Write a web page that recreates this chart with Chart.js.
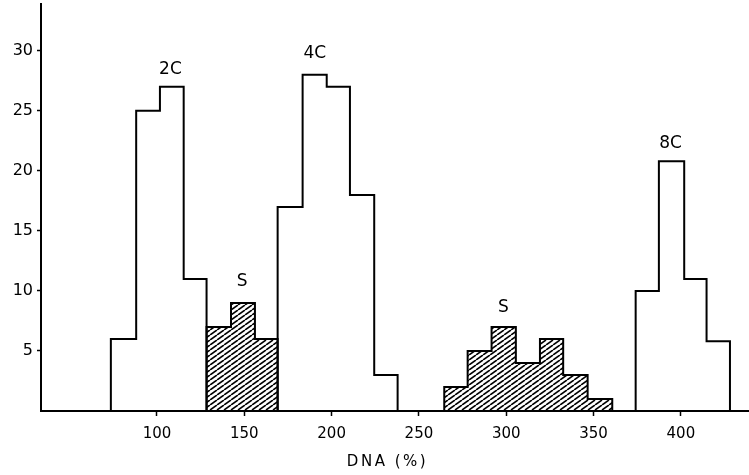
<!DOCTYPE html>
<html>
<head>
<meta charset="utf-8">
<script src="https://cdn.jsdelivr.net/npm/chart.js@4/dist/chart.umd.min.js"></script>
<style>
  html, body { margin: 0; padding: 0; background: #fff; }
  #wrap { width: 749px; height: 475px; }
</style>
</head>
<body>
<div id="wrap"><canvas id="c" width="749" height="475"></canvas></div>
<script>
// ---- data ----
// histogram groups: bin edges (DNA %) and cell counts
const edges2C = [73.6, 88.1, 101.7, 115.3, 128.4];
const counts2C = [6, 25, 27, 11];
const edgesS1 = [128.4, 142.4, 156.1, 169.1];
const countsS1 = [7, 9, 6];
const edges4C = [169.1, 183.4, 197.2, 210.5, 224.4, 237.8];
const counts4C = [17, 28, 27, 18, 3];
const edgesS2 = [264.5, 277.9, 291.6, 305.5, 319.3, 332.6, 346.6, 360.7];
const countsS2 = [2, 5, 7, 4, 6, 3, 1];
const edges8C = [374.1, 387.4, 401.9, 414.7, 428.1];
const counts8C = [10, 20.8, 11, 5.8];

// peak labels
const peakLabels = ['2C', 'S', '4C', 'S', '8C'];
const peakLabelX = [107.7, 148.8, 190.4, 298.3, 394.1];
const peakLabelY = [28.4, 10.8, 29.8, 8.6, 22.3];

// ticks
const xTickValues = [100, 150, 200, 250, 300, 350, 400];
const yTickValues = [5, 10, 15, 20, 25, 30];
const xTitle = 'DNA (%)';

// ---- helpers ----
function stepPoints(edges, counts) {
  const pts = [{ x: edges[0], y: 0 }];
  for (let i = 0; i < counts.length; i++) pts.push({ x: edges[i], y: counts[i] });
  pts.push({ x: edges[edges.length - 1], y: 0 });
  return pts;
}

function makeHatch() {
  const w = 7, h = 5;
  const c = document.createElement('canvas');
  c.width = w; c.height = h;
  const g = c.getContext('2d');
  g.strokeStyle = '#000';
  g.lineWidth = 1.6;
  for (const dx of [-w, 0, w]) {
    g.beginPath();
    g.moveTo(dx, h);
    g.lineTo(dx + w, 0);
    g.stroke();
  }
  return g.createPattern(c, 'repeat');
}
const hatch = makeHatch();

function ds(edges, counts, hatched) {
  return {
    data: stepPoints(edges, counts),
    stepped: 'before',
    borderColor: '#000',
    borderWidth: 2,
    pointRadius: 0,
    fill: hatched ? 'origin' : false,
    backgroundColor: hatched ? hatch : 'rgba(0,0,0,0)',
    tension: 0
  };
}

const textPlugin = {
  id: 'texts',
  afterDraw(chart) {
    const ctx = chart.ctx;
    const xs = chart.scales.x, ys = chart.scales.y;
    ctx.save();
    ctx.fillStyle = '#000';
    ctx.textAlign = 'center';
    ctx.textBaseline = 'middle';
    ctx.font = '17px "DejaVu Sans"';
    peakLabels.forEach((t, i) => {
      ctx.fillText(t, xs.getPixelForValue(peakLabelX[i]), ys.getPixelForValue(peakLabelY[i]));
    });
    ctx.font = '15px "DejaVu Sans"';
    if ('letterSpacing' in ctx) ctx.letterSpacing = '2.5px';
    ctx.fillText(xTitle, xs.getPixelForValue(232), 462);
    ctx.restore();
  }
};

new Chart(document.getElementById('c'), {
  type: 'line',
  data: {
    datasets: [
      ds(edges2C, counts2C, false),
      ds(edgesS1, countsS1, true),
      ds(edges4C, counts4C, false),
      ds(edgesS2, countsS2, true),
      ds(edges8C, counts8C, false)
    ]
  },
  options: {
    responsive: false,
    animation: false,
    layout: { padding: { top: 4, right: 0, bottom: 0, left: 0 } },
    plugins: { legend: { display: false }, tooltip: { enabled: false } },
    scales: {
      x: {
        type: 'linear',
        min: 33.6,
        max: 439,
        afterBuildTicks: (axis) => { axis.ticks = xTickValues.map(v => ({ value: v })); },
        afterFit: (scale) => { scale.height = 64; scale.paddingLeft = 0; scale.paddingRight = 0; },
        border: { display: true, color: '#000', width: 2 },
        grid: { drawOnChartArea: false, drawTicks: true, tickLength: 5, tickColor: '#000', tickWidth: 1.5 },
        ticks: { color: '#000', padding: 9, maxRotation: 0, autoSkip: false, font: { family: 'DejaVu Sans', size: 15 } }
      },
      y: {
        type: 'linear',
        min: 0,
        max: 33.9,
        afterBuildTicks: (axis) => { axis.ticks = yTickValues.map(v => ({ value: v })); },
        afterFit: (scale) => { scale.width = 41; scale.paddingTop = 0; scale.paddingBottom = 0; },
        border: { display: true, color: '#000', width: 2 },
        grid: { drawOnChartArea: false, drawTicks: true, tickLength: 4, tickColor: '#000', tickWidth: 1.5 },
        ticks: { color: '#000', padding: 4, autoSkip: false, font: { family: 'DejaVu Sans', size: 16 } }
      }
    }
  },
  plugins: [textPlugin]
});
</script>
</body>
</html>
